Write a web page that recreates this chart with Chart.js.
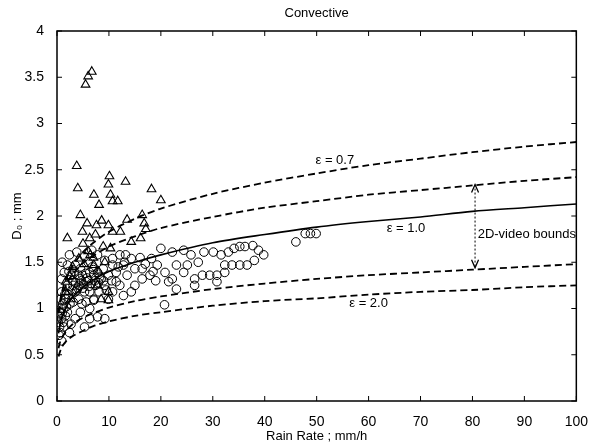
<!DOCTYPE html>
<html>
<head>
<meta charset="utf-8">
<script src="https://cdn.jsdelivr.net/npm/chart.js@4"></script>
<style>
  html, body { margin: 0; padding: 0; background: #fff; }
  #wrap { width: 593px; height: 447px; }
</style>
</head>
<body>
<div id="wrap"><canvas id="grafik"></canvas></div>
<script>
// rain rate grid for the model curves (mm/h)
const curveR = [0.3, 0.5, 1, 2, 3, 5, 7, 10, 15, 20, 30, 40, 50, 60, 70, 80, 90, 100];
// D0 (mm)
const eps07 = [0.95, 1.05, 1.19, 1.35, 1.46, 1.61, 1.71, 1.83, 1.97, 2.08, 2.24, 2.36, 2.46, 2.55, 2.62, 2.69, 2.75, 2.80];
const upperBound = [0.95, 1.03, 1.15, 1.28, 1.37, 1.49, 1.57, 1.67, 1.78, 1.87, 1.99, 2.09, 2.16, 2.23, 2.28, 2.33, 2.38, 2.42];
const eps10 = [0.73, 0.80, 0.91, 1.04, 1.12, 1.23, 1.31, 1.40, 1.50, 1.58, 1.71, 1.80, 1.88, 1.94, 1.99, 2.05, 2.09, 2.13];
const lowerBound = [0.57, 0.62, 0.69, 0.77, 0.83, 0.90, 0.95, 1.01, 1.08, 1.13, 1.21, 1.27, 1.32, 1.36, 1.39, 1.42, 1.45, 1.48];
const eps20 = [0.48, 0.52, 0.59, 0.66, 0.70, 0.76, 0.81, 0.86, 0.92, 0.96, 1.03, 1.08, 1.11, 1.15, 1.18, 1.20, 1.23, 1.25];

// observations, circles
const circleR = [46, 47.8, 48.8, 49.9, 20.7, 26.5, 0.9, 2.7, 5.3, 6.3, 7.8, 9.2, 6.3, 7.1,
  20, 22.2, 24.4, 25.8, 27.2, 28.3, 30.1, 31.6, 33, 34.1, 35.2, 36.2, 37.7, 38.8, 39.8, 38, 36.6, 35.2, 33.7,
  32.3, 30.8, 29.4, 28, 26.5, 30.8, 32.3, 25.1, 24.4, 23, 22.2, 23, 21.5, 20.8, 19.3, 18.2, 17.9, 16.4, 16.4,
  15, 14.3, 12.8, 12.1, 13.5, 15, 14.3, 12.8, 11.4, 11.4, 10.7, 9.9,
  0.6, 0.9, 1.3, 1.7, 0.9, 2.0, 2.7, 2.0, 2.4, 3.5, 4.2, 4.2, 3.5, 3.1, 4.2, 5.3, 5.6, 6.3, 6.0, 7.1, 7.8, 8.5,
  7.4, 6.3, 5.6, 7.1, 8.1, 9.2, 9.9, 8.9, 9.2, 10.7, 2.0, 1.3, 2.4, 3.5, 4.5, 0.2, 0.4, 0.7, 0.9, 1.4, 3.1, 4.9,
  4.5, 5.3, 3.8, 7.8, 6.7, 12.1, 10.7, 13.2,
  1.0, 1.5, 2.5, 3.0, 3.8, 4.8, 5.0, 6.0, 6.8, 8.0, 9.5, 10.5, 11.8, 13.0, 16.0, 17.0, 18.5, 19.0, 1.0, 1.2, 0.5, 2.2, 0.8,
  2.9, 3.6, 4.4, 5.1, 5.8, 6.6, 7.3, 8.2, 9.0, 3.3, 4.0, 4.7, 5.5, 6.2, 7.0, 1.8, 2.3, 1.1, 1.6, 0.6, 0.3];
const circleD = [1.72, 1.81, 1.81, 1.81, 1.04, 1.25, 0.65, 0.83, 0.80, 0.89, 0.91, 0.89, 1.00, 1.09,
  1.65, 1.61, 1.63, 1.58, 1.50, 1.61, 1.61, 1.58, 1.61, 1.65, 1.67, 1.67, 1.68, 1.63, 1.58, 1.52, 1.47, 1.47, 1.47,
  1.39, 1.36, 1.36, 1.36, 1.32, 1.29, 1.47, 1.47, 1.39, 1.47, 1.32, 1.21, 1.29, 1.39, 1.47, 1.54, 1.36, 1.43, 1.32,
  1.25, 1.18, 1.14, 1.25, 1.36, 1.43, 1.54, 1.47, 1.39, 1.29, 1.18, 1.10,
  0.74, 0.89, 1.00, 1.10, 1.18, 1.25, 1.36, 1.47, 1.58, 1.47, 1.36, 1.25, 1.18, 1.07, 1.10, 1.18, 1.29, 1.39, 1.50, 1.36, 1.39, 1.32,
  1.25, 1.18, 1.07, 1.10, 1.18, 1.25, 1.36, 1.43, 1.52, 1.47, 0.96, 0.80, 0.74, 0.89, 0.96, 0.92, 0.71, 1.10, 1.32, 1.39, 1.25, 1.36,
  1.43, 1.56, 1.61, 1.58, 1.63, 1.58, 1.54, 1.58,
  0.95, 1.15, 1.05, 1.30, 1.20, 1.05, 1.22, 1.30, 1.45, 1.28, 1.20, 1.30, 1.45, 1.50, 1.55, 1.48, 1.40, 1.30, 1.50, 0.85, 0.80, 1.15, 1.00,
  1.20, 1.28, 1.32, 1.26, 1.33, 1.27, 1.30, 1.34, 1.30, 1.40, 1.22, 1.30, 1.38, 1.24, 1.42, 1.02, 1.40, 1.05, 0.92, 0.95, 0.85];

// observations, triangles
const triR = [6.7, 6.0, 5.5, 3.8, 4.0, 7.1, 10.1, 9.9, 13.2, 18.2, 20.0, 4.5, 8.1, 10.3, 10.7, 11.7, 2.0, 7.6, 9.9,
  13.5, 16.4, 16.8, 17.1, 14.3, 16.1, 10.7, 12.2, 4.9, 6.3, 8.9, 10.3, 4.2, 7.1, 9.2, 1.7, 1.7, 2.7, 7.8, 9.9, 8.5, 9.9,
  5.0, 6.0, 7.0, 8.0, 3.0, 2.5, 5.8, 7.4, 8.6, 6.4, 5.2];
const triD = [3.56, 3.51, 3.42, 2.54, 2.30, 2.23, 2.43, 2.34, 2.37, 2.29, 2.17, 2.01, 2.12, 2.23, 2.16, 2.16, 1.76, 1.90, 1.90,
  1.96, 2.01, 1.92, 1.86, 1.72, 1.76, 1.83, 1.83, 1.83, 1.76, 1.67, 1.65, 1.54, 1.47, 1.50, 1.29, 1.18, 1.10, 1.25, 1.18, 1.10, 1.09,
  1.70, 1.62, 1.55, 1.40, 1.45, 1.35, 1.92, 1.80, 1.95, 1.58, 1.48];

const xTicks = [0, 10, 20, 30, 40, 50, 60, 70, 80, 90, 100];
const yTicks = [0, 0.5, 1, 1.5, 2, 2.5, 3, 3.5, 4];

// "2D-video bounds" arrow
const arrowR = 80.5;
const arrowTop = 2.34;
const arrowBottom = 1.44;

// curve labels (text, rain rate, D0)
const labelText = ["\u03b5 = 0.7", "\u03b5 = 1.0", "\u03b5 = 2.0", "2D-video bounds"];
const labelR = [53.5, 67.2, 60.0, 81.0];
const labelD = [2.60, 1.87, 1.05, 1.80];

const FONT = "'Liberation Sans', Arial, sans-serif";

function titik(xs, ys) {
  return xs.map((x, i) => ({ x: x, y: ys[i] }));
}

function garis(ys, dashed) {
  return {
    type: "line",
    data: titik(curveR, ys),
    borderColor: "#000",
    borderWidth: dashed ? 1.8 : 1.6,
    borderDash: dashed ? [7, 4] : [],
    pointRadius: 0,
    tension: 0.3,
    showLine: true,
    fill: false
  };
}

// frame with inward ticks, title, labels and arrow heads
const kotakPlugin = {
  id: "kotak",
  afterDatasetsDraw(chart) {
    const { ctx, chartArea: a, scales } = chart;
    const sx = scales.x, sy = scales.y;
    ctx.save();
    ctx.strokeStyle = "#000";
    ctx.lineWidth = 1.5;
    ctx.strokeRect(a.left, a.top, a.right - a.left, a.bottom - a.top);
    ctx.lineWidth = 1;
    ctx.beginPath();
    xTicks.forEach(v => {
      const px = sx.getPixelForValue(v);
      ctx.moveTo(px, a.bottom); ctx.lineTo(px, a.bottom - 5);
      ctx.moveTo(px, a.top); ctx.lineTo(px, a.top + 5);
    });
    yTicks.forEach(v => {
      const py = sy.getPixelForValue(v);
      ctx.moveTo(a.left, py); ctx.lineTo(a.left + 5, py);
      ctx.moveTo(a.right, py); ctx.lineTo(a.right - 5, py);
    });
    ctx.stroke();

    // arrow heads
    const ax = sx.getPixelForValue(arrowR);
    const at = sy.getPixelForValue(arrowTop);
    const ab = sy.getPixelForValue(arrowBottom);
    ctx.lineWidth = 1.3;
    ctx.beginPath();
    ctx.moveTo(ax - 3.5, at + 8); ctx.lineTo(ax, at); ctx.lineTo(ax + 3.5, at + 8);
    ctx.moveTo(ax - 3.5, ab - 8); ctx.lineTo(ax, ab); ctx.lineTo(ax + 3.5, ab - 8);
    ctx.stroke();

    // labels
    ctx.fillStyle = "#000";
    ctx.font = "13px " + FONT;
    ctx.textBaseline = "middle";
    labelText.forEach((t, i) => {
      ctx.textAlign = i === 3 ? "left" : "center";
      ctx.fillText(t, sx.getPixelForValue(labelR[i]), sy.getPixelForValue(labelD[i]));
    });

    // title
    ctx.textAlign = "center";
    ctx.font = "13px " + FONT;
    ctx.fillText("Convective", (a.left + a.right) / 2, 13);
    ctx.restore();
  }
};

Chart.defaults.color = "#000";
Chart.defaults.font.family = FONT;

new Chart(document.getElementById("grafik"), {
  type: "scatter",
  data: {
    datasets: [
      garis(eps07, true),
      garis(upperBound, true),
      garis(eps10, false),
      garis(lowerBound, true),
      garis(eps20, true),
      {
        type: "line",
        data: [{ x: arrowR, y: arrowTop }, { x: arrowR, y: arrowBottom }],
        borderColor: "#000",
        borderWidth: 1,
        borderDash: [2, 2],
        pointRadius: 0,
        showLine: true
      },
      {
        data: titik(circleR, circleD),
        pointStyle: "circle",
        pointRadius: 4.3,
        borderColor: "#000",
        borderWidth: 1,
        backgroundColor: "rgba(0,0,0,0)"
      },
      {
        data: titik(triR, triD),
        pointStyle: "triangle",
        pointRadius: 5,
        borderColor: "#000",
        borderWidth: 1.1,
        backgroundColor: "rgba(0,0,0,0)"
      }
    ]
  },
  options: {
    responsive: true,
    maintainAspectRatio: false,
    animation: false,
    layout: { padding: { top: 31, right: 13, left: 0, bottom: 0 } },
    plugins: {
      legend: { display: false },
      tooltip: { enabled: false }
    },
    scales: {
      x: {
        type: "linear",
        min: 0,
        max: 100,
        grid: { display: false },
        border: { display: false },
        afterBuildTicks: s => { s.ticks = xTicks.map(v => ({ value: v })); },
        afterFit: s => { s.height = 46; },
        ticks: { padding: 5, maxRotation: 0, font: { size: 14 }, callback: v => String(v) },
        title: {
          display: true,
          text: "Rain Rate ; mm/h",
          font: { size: 13 },
          padding: { top: 0, bottom: 3 }
        }
      },
      y: {
        type: "linear",
        min: 0,
        max: 4,
        grid: { display: false },
        border: { display: false },
        afterBuildTicks: s => { s.ticks = yTicks.map(v => ({ value: v })); },
        afterFit: s => { s.width = 57; },
        ticks: { padding: 5, font: { size: 14 }, callback: v => String(v) },
        title: {
          display: true,
          text: "D\u2080 ; mm",
          font: { size: 13 },
          padding: { top: 10, bottom: 0 }
        }
      }
    }
  },
  plugins: [kotakPlugin]
});
</script>
</body>
</html>
